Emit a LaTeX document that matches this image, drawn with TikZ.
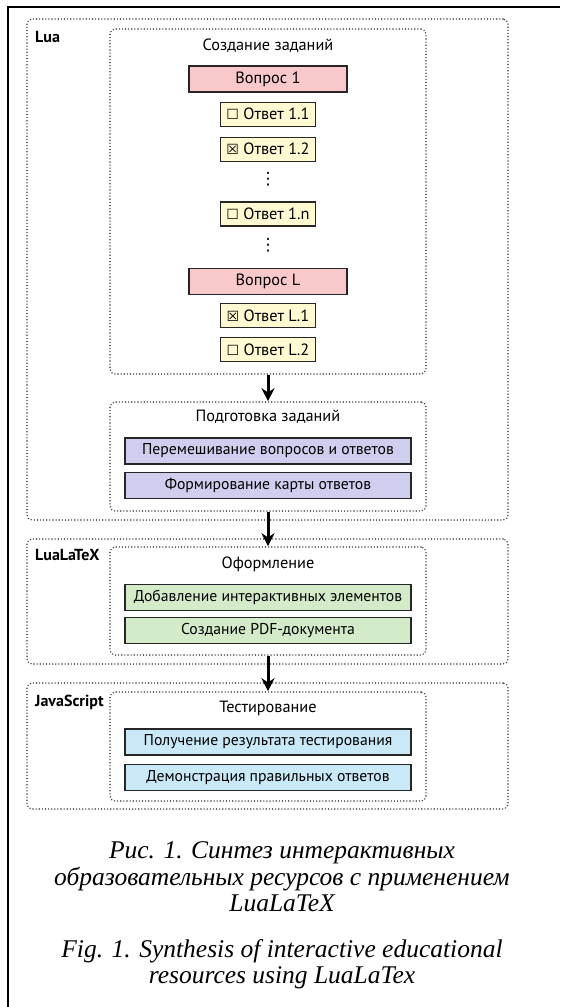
\documentclass[tikz,border=0pt]{standalone}
\usepackage{fontspec}
\setmainfont{PT Sans}
\newfontfamily\capfont{Liberation Serif}
\newfontfamily\boxsym{DejaVu Sans}
\usetikzlibrary{arrows.meta, positioning}

\definecolor{qpink}{HTML}{F8C8CB}
\definecolor{ayellow}{HTML}{FFFAD2}
\definecolor{tpurple}{HTML}{CFCEEE}
\definecolor{tgreen}{HTML}{D4EBCA}
\definecolor{tblue}{HTML}{C9E8F8}

\newcommand{\boxno}{{\boxsym\fontsize{14}{16}\selectfont ☐}}
\newcommand{\boxyes}{{\boxsym\fontsize{14}{16}\selectfont ☒}}

\begin{document}
\begin{tikzpicture}[x=1pt, y=-1pt,
  font=\fontsize{16.3}{18}\selectfont,
  group/.style={draw=black!75, dash pattern=on 0.01pt off 3.1pt, line cap=round,
    line width=1.6pt, rounded corners=5pt, inner sep=0pt},
  stage/.style={group, minimum width=316pt},
  tool/.style={font=\fontsize{16}{18}\selectfont\bfseries, anchor=west, inner sep=0pt},
  title/.style={inner sep=0pt},
  box/.style={rectangle, draw=black!85, line width=1.1pt, inner sep=0pt},
  question/.style={box, fill=qpink, minimum width=158pt, minimum height=26pt},
  answer/.style={box, fill=ayellow, minimum width=95pt, minimum height=24pt},
  task/.style={box, minimum width=286pt, minimum height=26pt,
    font=\fontsize{15.7}{18}\selectfont},
  dots/.style={inner sep=0pt, font=\boxsym\fontsize{17}{17}\selectfont},
  arrow/.style={-{Stealth[length=13pt,width=13pt]}, line width=3pt},
  caption/.style={font=\capfont\itshape\fontsize{25.5}{26.5}\selectfont, align=center}
]
\useasboundingbox (0,0) rectangle (560,1007);

% page frame
\draw[line width=1.4pt] (8,1007) -- (8,7) -- (560,7);

% Tool groups
\node[group, minimum width=481pt, minimum height=501pt] (lua) at (267.5,269.5) {};
\node[group, minimum width=481pt, minimum height=125pt] (luatex) at (267.5,601.5) {};
\node[group, minimum width=481pt, minimum height=126pt] (js) at (267.5,746) {};
\node[tool] (lua label) at (35,37) {Lua};
\node[tool] (luatex label) at (35,555) {LuaLaTeX};
\node[tool] (js label) at (35,702) {JavaScript};

% Stages
\node[stage, minimum height=345pt] (create) at (268,201.5) {};
\node[stage, minimum height=109pt] (prep) at (268,456.5) {};
\node[stage, minimum height=108pt] (layout) at (268,601) {};
\node[stage, minimum height=109pt] (test) at (268,746.5) {};

\node[title] (create title) at (268,46) {Создание заданий};
\node[title] (prep title) at (268,417) {Подготовка заданий};
\node[title] (layout title) at (268,564) {Оформление};
\node[title] (test title) at (268,708) {Тестирование};

% Questions and answers
\node[question] (q1) at (268,79) {Вопрос 1};
\node[answer, below=9pt of q1] (a11) {\boxno{} Ответ 1.1};
\node[answer, below=10pt of a11] (a12) {\boxyes{} Ответ 1.2};
\node[dots] (d1) at (268,179) {⋮};
\node[answer] (a1n) at (268,214) {\boxno{} Ответ 1.n};
\node[dots] (d2) at (268,245) {⋮};
\node[question] (qL) at (268,281.5) {Вопрос L};
\node[answer, below=8pt of qL] (aL1) {\boxyes{} Ответ L.1};
\node[answer, below=9pt of aL1] (aL2) {\boxno{} Ответ L.2};

% Tasks
\node[task, fill=tpurple] (shuffle) at (268,451) {Перемешивание вопросов и ответов};
\node[task, fill=tpurple, below=7pt of shuffle] (keymap) {Формирование карты ответов};
\node[task, fill=tgreen] (interact) at (268,597.5) {Добавление интерактивных элементов};
\node[task, fill=tgreen, below=6pt of interact] (pdf) {Создание PDF-документа};
\node[task, fill=tblue] (result) at (268,742) {Получение результата тестирования};
\node[task, fill=tblue, below=8pt of result] (correct) {Демонстрация правильных ответов};

% Flow
\draw[arrow] (create.south) -- (prep.north);
\draw[arrow] (prep.south) -- (layout.north);
\draw[arrow] (layout.south) -- (test.north);

% Caption
\node[caption] (cap ru) at (282,877) {Рис. 1. Синтез интерактивных\\образовательных ресурсов с применением\\LuaLaTeX};
\node[caption] (cap en) at (282,964) {Fig. 1. Synthesis of interactive educational\\resources using LuaLaTex};
\end{tikzpicture}
\end{document}
